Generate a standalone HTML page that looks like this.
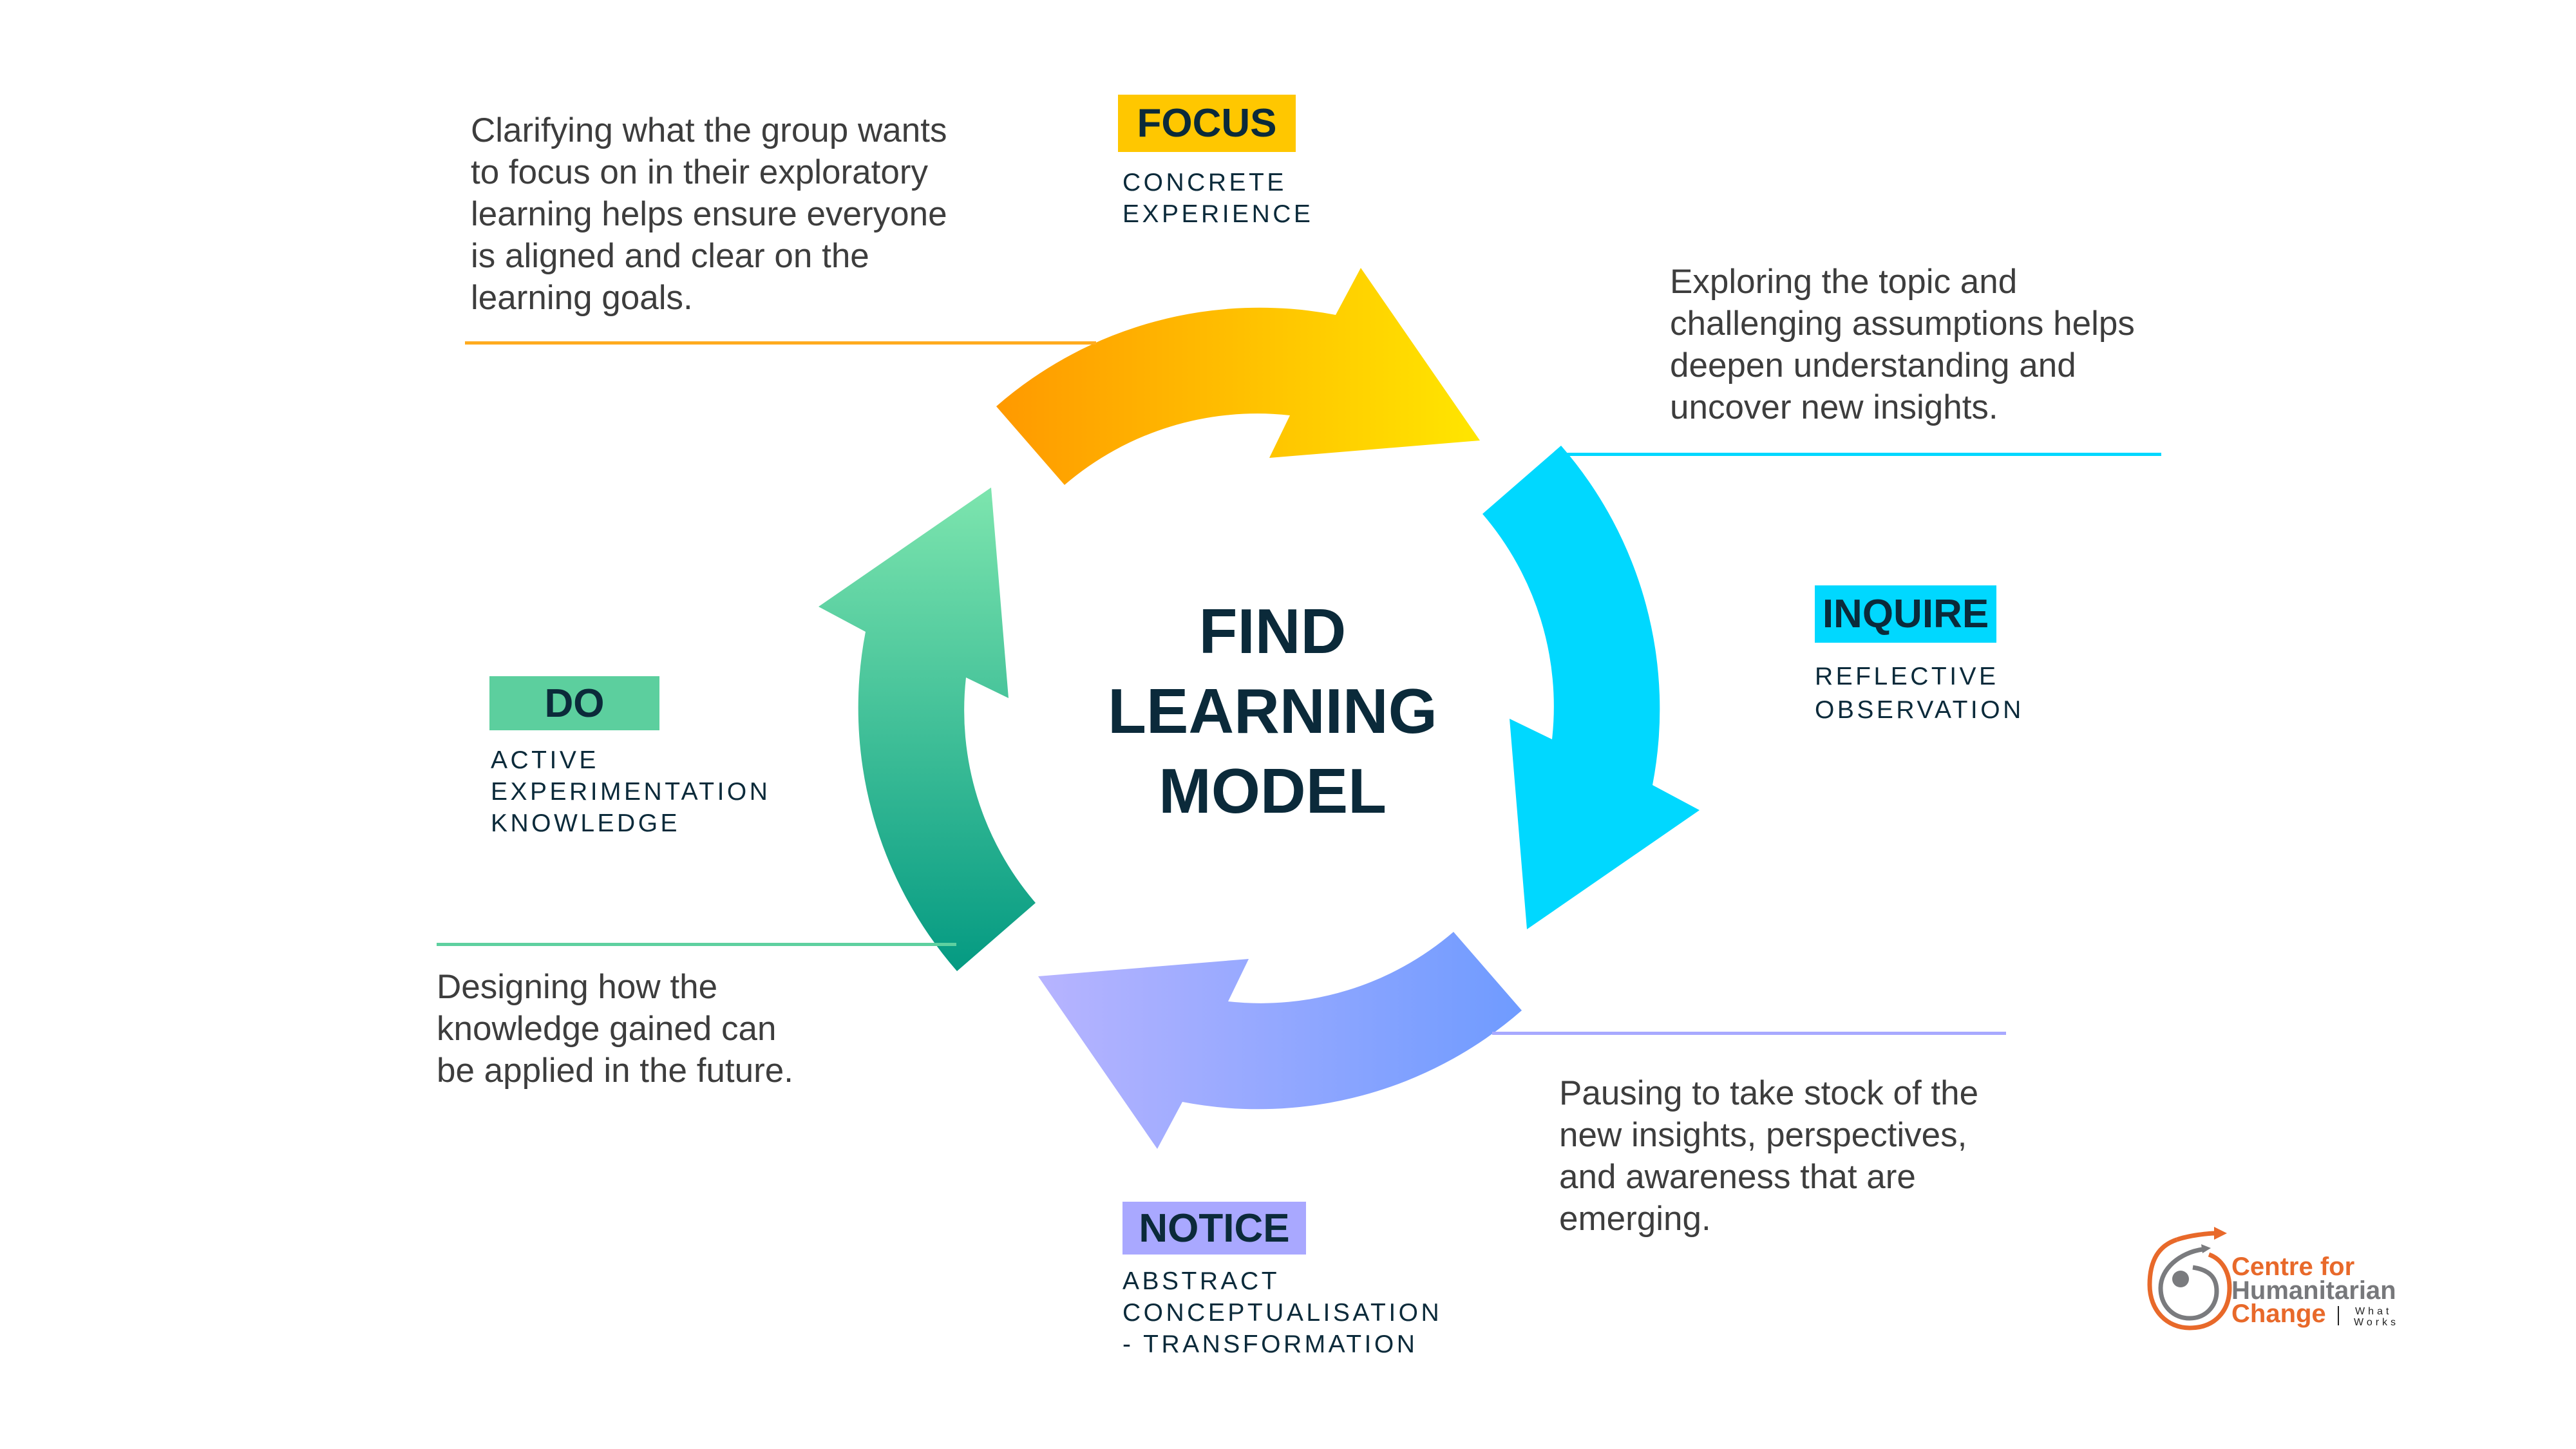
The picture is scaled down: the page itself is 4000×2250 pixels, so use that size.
<!DOCTYPE html>
<html><head><meta charset="utf-8"><style>
html,body{margin:0;padding:0;background:#fff}
#c{position:relative;width:4000px;height:2250px;overflow:hidden;font-family:"Liberation Sans",sans-serif}
.p{position:absolute;font-size:53px;line-height:65px;color:#3d3d3d;white-space:nowrap}
.box{position:absolute;font-weight:bold;color:#0b2a3a;font-size:62px;display:flex;align-items:center;justify-content:center}
.sub{position:absolute;font-size:39px;line-height:49px;letter-spacing:4.5px;color:#0b2a3a;white-space:nowrap}
.ln{position:absolute;height:5px}
.t{position:absolute;font-weight:bold;color:#0b2a3a;font-size:98px;line-height:124px;text-align:center;width:800px;left:1576px;top:918px}
</style></head><body><div id="c">
<svg width="4000" height="2250" style="position:absolute;left:0;top:0">
<defs>
<linearGradient id="go" gradientUnits="userSpaceOnUse" x1="1547" y1="0" x2="2298" y2="0"><stop offset="0" stop-color="#ff9900"/><stop offset="1" stop-color="#ffe600"/></linearGradient>
<linearGradient id="gb" gradientUnits="userSpaceOnUse" x1="1547" y1="0" x2="2298" y2="0"><stop offset="0" stop-color="#6f9bff"/><stop offset="1" stop-color="#b7b4ff"/></linearGradient>
<linearGradient id="gg" gradientUnits="userSpaceOnUse" x1="1547" y1="0" x2="2298" y2="0"><stop offset="0" stop-color="#049a82"/><stop offset="1" stop-color="#7de5ae"/></linearGradient>
<path id="ar" d="M1547,631 A622,622 0 0 1 2074,489 L2113,416 L2298,684 L1971,711 L2003,645 A459,459 0 0 0 1653,753 Z"/>
</defs>
<use href="#ar" fill="url(#go)"/>
<use href="#ar" fill="#00d8ff" transform="rotate(90 1955 1100)"/>
<use href="#ar" fill="url(#gb)" transform="rotate(180 1955 1100)"/>
<use href="#ar" fill="url(#gg)" transform="rotate(270 1955 1100)"/>
<path d="M3380,1925 C3350,1935 3338,1960 3338,1995 C3338,2035 3365,2062 3400,2062 C3440,2062 3462,2035 3462,2000 C3462,1975 3450,1955 3430,1948" fill="none" stroke="#e8692a" stroke-width="7"/>
<path d="M3380,1925 C3400,1918 3430,1915 3440,1915" fill="none" stroke="#e8692a" stroke-width="7"/>
<polygon points="3438,1905 3458,1915 3438,1925" fill="#e8692a"/>
<path d="M3420,1940 C3385,1945 3355,1970 3355,2000 C3355,2028 3375,2047 3400,2047 C3425,2047 3442,2028 3442,2005 C3442,1985 3432,1972 3405,1968" fill="none" stroke="#7a7b7e" stroke-width="7"/>
<polygon points="3418,1932 3433,1938 3420,1946" fill="#7a7b7e"/>
<circle cx="3386" cy="1986" r="13" fill="#7a7b7e"/>
<line x1="3631" y1="2028" x2="3631" y2="2058" stroke="#222" stroke-width="2"/>
<text x="3465" y="1980" font-family="Liberation Sans" font-weight="bold" font-size="40" fill="#e8692a">Centre for</text>
<text x="3465" y="2017" font-family="Liberation Sans" font-weight="bold" font-size="40" fill="#77787b">Humanitarian</text>
<text x="3465" y="2053" font-family="Liberation Sans" font-weight="bold" font-size="40" fill="#e8692a">Change</text>
<text x="3657" y="2041" font-family="Liberation Sans" font-size="16" letter-spacing="5" fill="#222">What</text>
<text x="3655" y="2058" font-family="Liberation Sans" font-size="16" letter-spacing="5" fill="#222">Works</text>
</svg>

<div class="p" style="left:731px;top:170px">Clarifying what the group wants<br>to focus on in their exploratory<br>learning helps ensure everyone<br>is aligned and clear on the<br>learning goals.</div>
<div class="ln" style="left:722px;top:530px;width:980px;background:#ffab1f"></div>
<div class="box" style="left:1736px;top:147px;width:276px;height:89px;background:#ffc700">FOCUS</div>
<div class="sub" style="left:1743px;top:259px">CONCRETE<br>EXPERIENCE</div>

<div class="p" style="left:2593px;top:405px">Exploring the topic and<br>challenging assumptions helps<br>deepen understanding and<br>uncover new insights.</div>
<div class="ln" style="left:2427px;top:703px;width:929px;background:#00d8ff"></div>
<div class="box" style="left:2818px;top:909px;width:282px;height:89px;background:#00d8ff">INQUIRE</div>
<div class="sub" style="left:2818px;top:1025px;line-height:52px">REFLECTIVE<br>OBSERVATION</div>

<div class="box" style="left:760px;top:1050px;width:264px;height:84px;background:#5ccf9e">DO</div>
<div class="sub" style="left:762px;top:1156px">ACTIVE<br>EXPERIMENTATION<br>KNOWLEDGE</div>
<div class="ln" style="left:678px;top:1464px;width:807px;background:#5ed0a0"></div>
<div class="p" style="left:678px;top:1500px">Designing how the<br>knowledge gained can<br>be applied in the future.</div>

<div class="ln" style="left:2317px;top:1602px;width:798px;background:#a8a9ff"></div>
<div class="p" style="left:2421px;top:1665px">Pausing to take stock of the<br>new insights, perspectives,<br>and awareness that are<br>emerging.</div>
<div class="box" style="left:1743px;top:1866px;width:285px;height:82px;background:#a9a8ff">NOTICE</div>
<div class="sub" style="left:1743px;top:1965px">ABSTRACT<br>CONCEPTUALISATION<br>- TRANSFORMATION</div>

<div class="t">FIND<br>LEARNING<br>MODEL</div>
</div></body></html>
